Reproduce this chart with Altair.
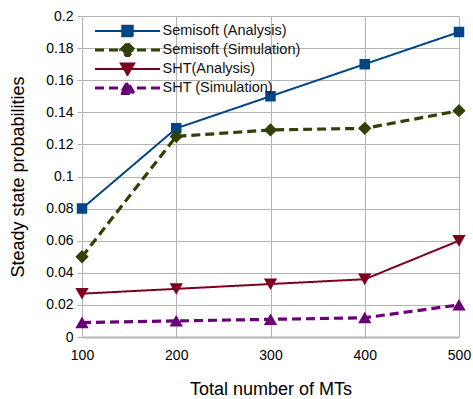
import altair as alt
import pandas as pd

mts = [100, 200, 300, 400, 500]
series_names = ["Semisoft (Analysis)", "Semisoft (Simulation)", "SHT(Analysis)", "SHT (Simulation)"]
semisoft_analysis = [0.08, 0.13, 0.15, 0.17, 0.19]
semisoft_simulation = [0.05, 0.125, 0.129, 0.13, 0.141]
sht_analysis = [0.027, 0.030, 0.033, 0.036, 0.060]
sht_simulation = [0.009, 0.010, 0.011, 0.012, 0.020]
y_ticks = [0, 0.02, 0.04, 0.06, 0.08, 0.1, 0.12, 0.14, 0.16, 0.18, 0.2]

colors = ["#004586", "#314004", "#7e0021", "#6a0078"]
dashes = [[1, 0], [9, 5], [1, 0], [9, 5]]
widths = [2, 3.2, 2, 3.2]
# line + marker paths (line part only visible in legend via stroke); unit = 7px
shapes = [
    "M-4.64,0H4.64M-0.75,-0.75H0.75V0.75H-0.75Z",
    "M-4.64,0H4.64M0,-0.95L0.95,0L0,0.95L-0.95,0Z",
    "M-4.64,0H4.64M-0.95,-0.8L0.95,-0.8L0,0.85Z",
    "M-4.64,0H4.64M-0.95,0.8L0.95,0.8L0,-0.85Z",
]

rows = []
for name, vals in zip(series_names, [semisoft_analysis, semisoft_simulation, sht_analysis, sht_simulation]):
    for x, v in zip(mts, vals):
        rows.append({"mts": x, "value": v, "series": name})
df = pd.DataFrame(rows)

x = alt.X("mts:Q", title="Total number of MTs",
          scale=alt.Scale(domain=[100, 500], nice=False),
          axis=alt.Axis(values=mts, format="d", labelFontSize=14, titleFontSize=18,
                        titlePadding=18, labelPadding=11, ticks=False, domainColor="#b3b3b3",
                        domainWidth=2, gridColor="#b3b3b3", labelColor="#000", titleColor="#000",
                        titleFontWeight="normal", labelFlush=False))
y = alt.Y("value:Q", title="Steady state probabilities",
          scale=alt.Scale(domain=[0, 0.2], nice=False),
          axis=alt.Axis(values=y_ticks, labelExpr="format(datum.value, '~g')", labelFontSize=14,
                        titleFontSize=18, titlePadding=18, labelPadding=4, tickSize=5,
                        tickColor="#b3b3b3", domain=False, gridColor="#b3b3b3",
                        labelColor="#000", titleColor="#000", titleFontWeight="normal",
                        labelFlush=False))

legend = alt.Legend(title=None, orient="none", legendX=11, legendY=8, padding=0,
                    labelFontSize=14.5, labelColor="#111", symbolSize=196, clipHeight=14,
                    symbolStrokeWidth=2.5, rowPadding=4, symbolOffset=25.5, labelOffset=26)

stroke_enc = alt.Stroke("series:N", sort=series_names,
                        scale=alt.Scale(domain=series_names, range=colors), legend=legend)
dash_enc = alt.StrokeDash("series:N", sort=series_names,
                          scale=alt.Scale(domain=series_names, range=dashes), legend=legend)

lines = alt.Chart(df).mark_line().encode(
    x=x, y=y, stroke=stroke_enc, strokeDash=dash_enc,
    strokeWidth=alt.StrokeWidth("series:O", sort=series_names,
                                scale=alt.Scale(type="ordinal", domain=series_names, range=widths), legend=None),
)

points = alt.Chart(df).mark_point(filled=True, opacity=1, strokeWidth=0, size=196).encode(
    x=x, y=y,
    fill=alt.Fill("series:N", sort=series_names,
                  scale=alt.Scale(domain=series_names, range=colors), legend=legend),
    stroke=stroke_enc,
    strokeDash=dash_enc,
    shape=alt.Shape("series:N", sort=series_names,
                    scale=alt.Scale(domain=series_names, range=shapes), legend=legend),
)

chart = alt.layer(lines, points).properties(
    width=377, height=321,
    autosize=alt.AutoSizeParams(type="none"),
    padding={"left": 82, "top": 16, "right": 14, "bottom": 62},
).configure_view(stroke=None).configure_axis(labelFont="Liberation Sans", titleFont="Liberation Sans"
).configure_legend(labelFont="Liberation Sans")

chart.save("out.html", embed_options={"renderer": "svg", "actions": False})
